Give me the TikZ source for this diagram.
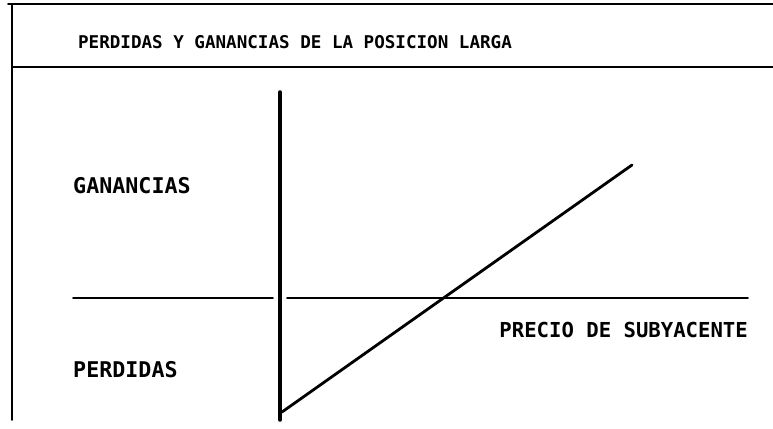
\documentclass[tikz,border=0pt]{standalone}
\usepackage{fontspec}
\setmonofont{DejaVu Sans Mono}
\usetikzlibrary{positioning}

\begin{document}
\begin{tikzpicture}[
            x = 0.03cm, y = -0.03cm, % pixel grid of the chart
            line cap = round,
            frame/.style = {line width = 1.4pt},
            axis/.style = {line width = 3pt},
            profit/.style = {line width = 2.4pt},
            label/.style = {font = \ttfamily\bfseries\fontsize{18.5}{18.5}\selectfont, inner sep = 0pt},
            heading/.style = {font = \ttfamily\bfseries\fontsize{15}{15}\selectfont, inner sep = 0pt}
        ]

        \useasboundingbox (0,0) rectangle (773,429);

        % frame of the sheet
        \coordinate (topL) at (8,4);
        \coordinate (topR) at (773,4);
        \coordinate (sideT) at (12,4);
        \coordinate (sideB) at (12,420);
        \coordinate (headL) at (12,67);
        \coordinate (headR) at (773,67);

        \draw[frame] (topL) -- (topR);
        \draw[frame] (sideT) -- (sideB);
        \draw[frame] (headL) -- (headR);

        \node[heading] (title) at (295,42) {PERDIDAS Y GANANCIAS DE LA POSICION LARGA};

        % axes
        \coordinate (yTop) at (280,92);
        \coordinate (yBot) at (280,420);
        \coordinate (xL) at (73,298);
        \coordinate (xGapL) at (273,298);
        \coordinate (xGapR) at (287,298);
        \coordinate (xR) at (748,298);

        \draw[axis] (yTop) -- (yBot);
        \draw[frame] (xL) -- (xGapL);
        \draw[frame] (xGapR) -- (xR);

        % long position
        \coordinate (start) at (282,412);
        \coordinate (end) at (632,165);
        \draw[profit] (start) -- (end);

        \node[label, anchor = west] (gain) at (73,186) {GANANCIAS};
        \node[label, anchor = west] (loss) at (73,370) {PERDIDAS};
        \node[label, anchor = east, font = \ttfamily\bfseries\fontsize{17.6}{17.6}\selectfont] (price) at (748,330) {PRECIO DE SUBYACENTE};

    \end{tikzpicture}
\end{document}
